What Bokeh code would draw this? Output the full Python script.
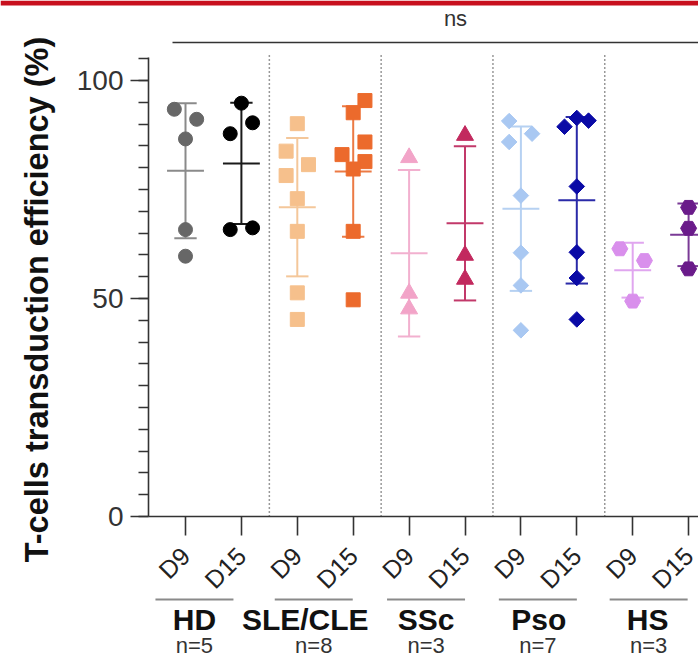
import numpy as np
from math import pi
from bokeh.plotting import figure
from bokeh.models import Range1d, FixedTicker, ColumnDataSource, BoxAnnotation
from bokeh.core.properties import value
from bokeh.embed import file_html
from bokeh.resources import INLINE

# ---------------- data ----------------
groups = ["HD", "SLE/CLE", "SSc", "Pso", "HS"]
group_n = ["n=5", "n=8", "n=3", "n=7", "n=3"]
tick_labels = ["D9", "D15"] * 5
y_ticks = [0, 50, 100]
y_minor = list(range(0, 106, 5))
y_title = "T-cells transduction efficiency (%)"
stat_label = "ns"

hd_d9 = [93.4, 91.1, 86.6, 65.8, 59.7]
hd_d15 = [94.8, 90.3, 87.8, 65.8, 66.2]
sle_d9 = [90.1, 83.8, 80.7, 78.2, 72.9, 65.4, 51.3, 45.2]
sle_d15 = [95.4, 92.6, 85.9, 83.0, 81.4, 79.7, 65.4, 49.7]
ssc_d9 = [82.3, 51.2, 47.6]
ssc_d15 = [87.4, 59.9, 54.4]
pso_d9 = [90.7, 87.8, 85.9, 73.6, 60.5, 53.0, 42.7]
pso_d15 = [89.4, 91.4, 90.8, 75.7, 60.6, 54.7, 45.2]
hs_d9 = [61.4, 58.7, 49.4]
hs_d15 = [70.9, 66.1, 56.8]

series = [hd_d9, hd_d15, sle_d9, sle_d15, ssc_d9, ssc_d15, pso_d9, pso_d15, hs_d9, hs_d15]

# ---------------- layout / style ----------------
jitter = [
    [-0.2, 0.2, 0, 0, 0],
    [0, 0.2, -0.2, -0.2, 0.2],
    [0, -0.2, 0.2, -0.2, 0, 0, 0, 0],
    [0.21, 0, 0.21, -0.2, 0.21, 0, 0, 0],
    [0, 0, 0],
    [0, 0, 0],
    [-0.21, 0.2, -0.21, 0, 0, 0, 0],
    [-0.22, 0, 0.21, 0, 0, 0, 0],
    [-0.23, 0.21, 0],
    [0, 0, 0],
]
markers = ["circle", "circle", "square", "square", "triangle", "triangle",
           "square", "square", "hex", "hex"]
angles = [0, 0, 0, 0, 0, 0, pi / 4, pi / 4, 0, 0]
sizes = [14, 14, 14, 14, 17, 17, 11, 11, 16, 16]
point_colors = ["#676767", "#000000", "#f6c08c", "#ec6a2c", "#f2a4c8", "#c2295e",
                "#a9c8f2", "#0a0aa6", "#d98fec", "#6a1b8a"]
bar_colors = ["#8a8a8a", "#1a1a1a", "#f4c79a", "#ec7a44", "#f2b0cf", "#c2396a",
              "#b6d1f2", "#2a2aa8", "#e0a6ef", "#7a3a96"]

FONT = "Liberation Sans"
W, H = 698, 657
PX0, DXPX = 185.0, 55.9       # pixel of first category, px per category
Y0PX, DYPX = 516.0, 4.36      # pixel of y=0, px per unit


def dx(px):
    return (px - PX0) / DXPX


def dy(px):
    return (Y0PX - px) / DYPX


p = figure(width=W, height=H, output_backend="svg", toolbar_location=None,
           x_range=Range1d(dx(0), dx(W)), y_range=Range1d(dy(H), dy(0)),
           min_border_left=0, min_border_right=0, min_border_top=0, min_border_bottom=0)
p.background_fill_color = "white"
p.border_fill_color = "white"
p.outline_line_color = None
p.xgrid.visible = False
p.ygrid.visible = False

# red band at the very top
p.add_layout(BoxAnnotation(bottom=dy(5), fill_color="#c8101e", fill_alpha=1, line_color=None))

# y axis
ya = p.yaxis[0]
ya.fixed_location = dx(148)
ya.ticker = FixedTicker(ticks=y_ticks, minor_ticks=y_minor)
ya.bounds = (0, dy(57))
ya.axis_line_color = "#333333"
ya.axis_line_width = 1.6
ya.major_tick_line_color = "#333333"
ya.major_tick_line_width = 1.6
ya.minor_tick_line_color = "#333333"
ya.minor_tick_line_width = 1.6
ya.major_tick_out = 18
ya.major_tick_in = 0
ya.minor_tick_out = 10
ya.minor_tick_in = 0
ya.major_label_standoff = 7
ya.major_label_text_font = FONT
ya.major_label_text_font_size = "28px"
ya.major_label_text_color = "#333333"

# x axis
xa = p.xaxis[0]
xa.fixed_location = 0
xa.bounds = (dx(148), dx(W))
xa.ticker = FixedTicker(ticks=list(range(len(tick_labels))))
xa.major_label_overrides = {i: t for i, t in enumerate(tick_labels)}
xa.major_label_orientation = pi / 4
xa.axis_line_color = "#333333"
xa.axis_line_width = 1.6
xa.major_tick_line_color = "#333333"
xa.major_tick_line_width = 1.6
xa.minor_tick_line_color = None
xa.major_tick_out = 19
xa.major_tick_in = 0
xa.major_label_standoff = 16
xa.major_label_text_font = FONT
xa.major_label_text_font_size = "25px"
xa.major_label_text_color = "#222222"

# dotted separators between groups
sep_x = [2 * g + 1.5 for g in range(len(groups) - 1)]
p.segment(x0=sep_x, y0=[0] * len(sep_x), x1=sep_x, y1=[dy(53)] * len(sep_x),
          line_color="#333333", line_width=1.5, line_dash="1 3")

# ns bracket
p.segment(x0=[dx(172)], y0=[dy(42)], x1=[dx(W + 2)], y1=[dy(42)], line_color="#333333", line_width=1.6)
p.text(x=[dx(455)], y=[dy(18)], text=[stat_label], text_align="center", text_baseline="middle",
       text_font=value(FONT), text_font_size="22px", text_color="#333333")

# error bars (mean +/- SD)
xs = np.arange(len(series), dtype=float)
means = np.array([np.mean(v) for v in series])
sds = np.array([np.std(v, ddof=1) for v in series])
eb = ColumnDataSource(dict(x=xs, lo=means - sds, hi=means + sds, m=means,
                           cl=xs - 0.2, cr=xs + 0.2, ml=xs - 0.33, mr=xs + 0.33, c=bar_colors))
p.segment(x0="x", y0="lo", x1="x", y1="hi", line_color="c", line_width=2, source=eb)
p.segment(x0="cl", y0="lo", x1="cr", y1="lo", line_color="c", line_width=2, source=eb)
p.segment(x0="cl", y0="hi", x1="cr", y1="hi", line_color="c", line_width=2, source=eb)
p.segment(x0="ml", y0="m", x1="mr", y1="m", line_color="c", line_width=2, source=eb)

# points
for i, vals in enumerate(series):
    px = [i + j for j in jitter[i]]
    p.scatter(x=px, y=vals, marker=markers[i], size=sizes[i], angle=angles[i],
              fill_color=point_colors[i], line_color=point_colors[i], line_width=1)

# y axis title
p.text(x=[dx(36)], y=[dy(299)], text=[y_title], angle=pi / 2,
       text_align="center", text_baseline="middle", text_font=value(FONT),
       text_font_size="32.5px", text_font_style="bold", text_color="#111111")

# group annotations below the axis
ul_shift = [-19, -11.5, -11, -11, -12]
name_shift = [-19, -20, -11, -10, -13]
centers = [2 * g + 0.5 for g in range(len(groups))]
ul_c = [c + s / DXPX for c, s in zip(centers, ul_shift)]
half = 39 / DXPX
p.segment(x0=[c - half for c in ul_c], y0=[dy(599)] * len(groups),
          x1=[c + half for c in ul_c], y1=[dy(599)] * len(groups),
          line_color="#8a8a8a", line_width=2)
p.text(x=[c + s / DXPX for c, s in zip(centers, name_shift)], y=[dy(619)] * len(groups), text=groups,
       text_align="center", text_baseline="middle", text_font=value(FONT), text_font_size="30px",
       text_font_style="bold", text_color="#111111")
p.text(x=ul_c, y=[dy(645)] * len(groups), text=group_n,
       text_align="center", text_baseline="middle", text_font=value(FONT), text_font_size="22px",
       text_color="#333333")

open("out.html", "w").write(file_html(p, INLINE))
